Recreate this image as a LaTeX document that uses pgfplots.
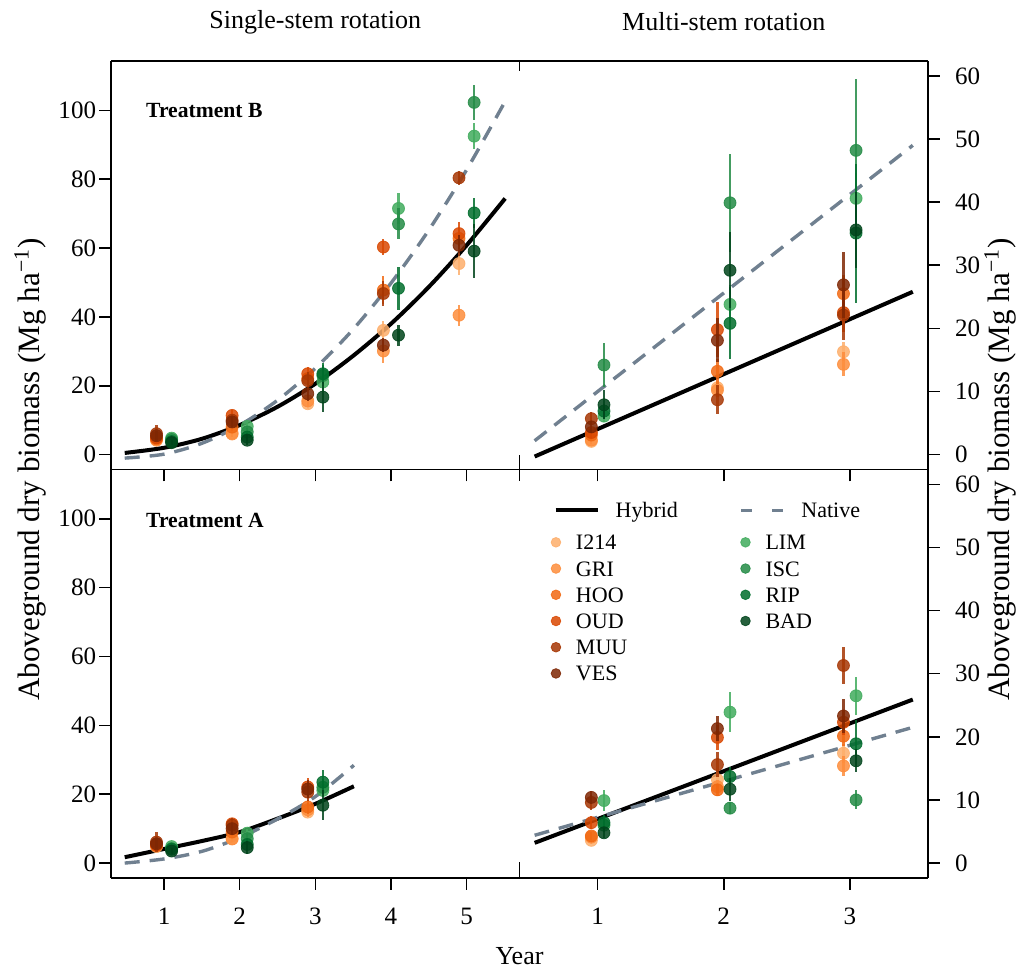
\documentclass[border=0pt]{standalone}
\usepackage{fontspec}
\setmainfont{Liberation Serif}
\usepackage{pgfplots}
\pgfplotsset{compat=1.18}
\usepgfplotslibrary{groupplots}

\definecolor{cI214}{HTML}{FDAE6B}
\definecolor{cGRI}{HTML}{FD8D3C}
\definecolor{cHOO}{HTML}{F16913}
\definecolor{cOUD}{HTML}{D94801}
\definecolor{cMUU}{HTML}{A63603}
\definecolor{cVES}{HTML}{7F2704}
\definecolor{cLIM}{HTML}{41AB5D}
\definecolor{cISC}{HTML}{238B45}
\definecolor{cRIP}{HTML}{006D2C}
\definecolor{cBAD}{HTML}{00441B}
\definecolor{natgray}{HTML}{708090}

\pgfplotsset{
  cv/.style={forget plot, only marks, mark=*, mark size=3pt, color=#1, opacity=0.85,
    error bars/.cd, y dir=both, y explicit, error mark=none,
    error bar style={line width=1.1pt, color=#1}},
  hyb/.style={forget plot, black, line width=2pt, smooth, mark=none},
  nat/.style={forget plot, natgray, line width=1.7pt, dash pattern=on 7.5pt off 5pt, smooth, mark=none},
  legdot/.style={legend image code/.code={\path[draw=none, fill=none] (0pt,-2.4pt) rectangle (12.4pt,2.4pt);
    \fill[#1, opacity=0.85] (2.4pt,0pt) circle (2.4pt);}},
  leftcol/.style={axis x line*=box, axis y line*=left, xtick pos=left, ytick pos=left,
    tick align=outside, ymin=-4.3, ymax=114.3, ytick={0,20,...,100},
    xmin=0.3, xmax=5.7, xtick={1,...,5}, yticklabel style={xshift=2pt}},
  rightcol/.style={axis x line*=box, axis y line*=right, xtick pos=left, ytick pos=right,
    yticklabel pos=right, tick align=outside, ymin=-2.35, ymax=62.35, ytick={0,10,...,60},
    xmin=0.38, xmax=3.62, xtick={1,2,3}, yticklabel style={xshift=4pt}},
}

\begin{document}
\begin{tikzpicture}
\begin{groupplot}[
  group style={group size=2 by 2, horizontal sep=0pt, vertical sep=0pt, group name=G},
  scale only axis, width=204pt, height=204pt,
  major tick length=6pt,
  tick style={black, line width=0.8pt},
  axis line style={black, line width=0.8pt, -},
  every outer x axis line/.append style={-},
  every outer y axis line/.append style={-},
  /pgf/number format/assume math mode=true,
  tick label style={font=\fontsize{12.5}{15}\selectfont},
  xticklabel style={yshift=-5.5pt},
  clip mode=individual,
]

% ---------- Treatment B, single-stem ----------
\nextgroupplot[leftcol, xticklabels={,,,,,}]
\addplot[hyb] coordinates {(0.48,0.5) (1.0,2.0) (1.5,4.6) (2.0,8.6) (2.5,13.9) (3.0,20.6) (3.5,28.7) (4.0,38.0) (4.5,48.7) (5.0,60.8) (5.51,74.4)};
\addplot[nat] coordinates {(0.48,-1.0) (1.0,0.15) (1.5,3.3) (2.0,8.55) (2.5,15.8) (3.0,25.1) (3.5,36.4) (4.0,49.8) (4.5,65.2) (5.0,82.7) (5.53,103.4)};
\addplot[cv=cI214] coordinates {(0.9,4.4) +- (0,1.0) (1.9,6.3) +- (0,1.0) (2.9,14.8) +- (0,1.5) (3.9,36.1) +- (0,2.8) (4.9,55.5) +- (0,3.2)};
\addplot[cv=cGRI] coordinates {(0.9,4.2) +- (0,0.9) (1.9,6.0) +- (0,1.0) (2.9,15.6) +- (0,1.6) (3.9,30.1) +- (0,3.5) (4.9,40.5) +- (0,3.0)};
\addplot[cv=cHOO] coordinates {(0.9,4.6) +- (0,1.0) (1.9,8.0) +- (0,1.2) (2.9,22.1) +- (0,2.0) (3.9,47.8) +- (0,4.0) (4.9,62.8) +- (0,3.0)};
\addplot[cv=cOUD] coordinates {(0.9,4.9) +- (0,1.2) (1.9,11.4) +- (0,1.5) (2.9,23.5) +- (0,2.0) (3.9,60.3) +- (0,2.2) (4.9,64.2) +- (0,3.5)};
\addplot[cv=cMUU] coordinates {(0.9,6.1) +- (0,2.5) (1.9,10.0) +- (0,1.8) (2.9,21.5) +- (0,2.5) (3.9,46.8) +- (0,3.5) (4.9,80.4) +- (0,2.0)};
\addplot[cv=cVES] coordinates {(0.9,5.5) +- (0,1.5) (1.9,9.5) +- (0,1.5) (2.9,17.7) +- (0,2.0) (3.9,31.8) +- (0,2.0) (4.9,60.8) +- (0,3.0)};
\addplot[cv=cLIM] coordinates {(1.1,4.8) +- (0,1.0) (2.1,8.2) +- (0,1.2) (3.1,21.1) +- (0,2.5) (4.1,71.5) +- (0,4.5) (5.1,92.5) +- (0,3.7)};
\addplot[cv=cISC] coordinates {(1.1,4.4) +- (0,1.0) (2.1,6.6) +- (0,1.2) (3.1,23.0) +- (0,3.0) (4.1,67.0) +- (0,4.5) (5.1,102.3) +- (0,5.0)};
\addplot[cv=cRIP] coordinates {(1.1,3.8) +- (0,0.8) (2.1,5.1) +- (0,1.2) (3.1,23.5) +- (0,3.0) (4.1,48.3) +- (0,6.3) (5.1,70.2) +- (0,4.3)};
\addplot[cv=cBAD] coordinates {(1.1,3.5) +- (0,0.8) (2.1,4.2) +- (0,1.5) (3.1,16.7) +- (0,4.3) (4.1,34.7) +- (0,3.0) (5.1,59.1) +- (0,7.9)};
\node[anchor=west, font=\bfseries\fontsize{10.8}{13}\selectfont] at (rel axis cs:0,1) [xshift=14pt, yshift=-24.5pt] {Treatment B};
\node[font=\fontsize{13}{15}\selectfont] at (rel axis cs:0.5,1) [yshift=19.5pt] {Single-stem rotation};
\path (rel axis cs:0,0) ++(-40.5pt,0pt) node[rotate=90, font=\fontsize{15.5}{18}\selectfont] {Aboveground dry biomass (Mg ha\textsuperscript{−1})};
\draw[line width=0.8pt] (rel axis cs:1,1) -- ++(0pt,-5pt);
\draw[line width=0.8pt] (rel axis cs:1,0) -- ++(0pt,7pt);

% ---------- Treatment B, multi-stem ----------
\nextgroupplot[rightcol, xticklabels={,,,,}]
\addplot[hyb] coordinates {(0.5,-0.3) (3.5,25.8)};
\addplot[nat] coordinates {(0.5,2.2) (3.5,49.0)};
\addplot[cv=cI214] coordinates {(0.95,2.1) +- (0,0.6) (1.95,10.6) +- (0,1.0) (2.95,16.3) +- (0,1.5)};
\addplot[cv=cGRI] coordinates {(0.95,2.3) +- (0,0.6) (1.95,10.2) +- (0,1.0) (2.95,14.3) +- (0,1.9)};
\addplot[cv=cHOO] coordinates {(0.95,3.1) +- (0,0.8) (1.95,13.2) +- (0,2.0) (2.95,25.5) +- (0,3.0)};
\addplot[cv=cOUD] coordinates {(0.95,3.5) +- (0,0.8) (1.95,19.8) +- (0,4.4) (2.95,22.5) +- (0,3.0)};
\addplot[cv=cMUU] coordinates {(0.95,5.7) +- (0,1.0) (1.95,8.7) +- (0,2.3) (2.95,22.1) +- (0,4.0)};
\addplot[cv=cVES] coordinates {(0.95,4.4) +- (0,1.0) (1.95,18.1) +- (0,3.5) (2.95,26.9) +- (0,5.2)};
\addplot[cv=cLIM] coordinates {(1.05,6.1) +- (0,1.0) (2.05,23.8) +- (0,3.0) (3.05,40.6) +- (0,4.0)};
\addplot[cv=cISC] coordinates {(1.05,14.2) +- (0,3.5) (2.05,39.9) +- (0,7.8) (3.05,48.2) +- (0,11.3)};
\addplot[cv=cRIP] coordinates {(1.05,6.9) +- (0,1.2) (2.05,20.8) +- (0,5.7) (3.05,35.1) +- (0,11.0)};
\addplot[cv=cBAD] coordinates {(1.05,7.9) +- (0,2.3) (2.05,29.2) +- (0,6.0) (3.05,35.6) +- (0,6.0)};
\node[font=\fontsize{13}{15}\selectfont] at (rel axis cs:0.5,1) [yshift=19.5pt] {Multi-stem rotation};
\path (rel axis cs:1,0) ++(36pt,0pt) node[rotate=90, font=\fontsize{15.5}{18}\selectfont] {Aboveground dry biomass (Mg ha\textsuperscript{−1})};
\draw[line width=0.8pt] (rel axis cs:0,1) -- ++(0pt,-5pt);
\draw[line width=0.8pt] (rel axis cs:0,0) -- ++(0pt,7pt);

% ---------- Treatment A, single-stem ----------
\nextgroupplot[leftcol,
  legend columns=2, legend cell align=left,
  legend style={at={(1.0765,0.84)}, anchor=north west, draw=none, fill=none,
    inner sep=0pt, outer sep=0pt, row sep=5.6pt, font=\fontsize{11}{13}\selectfont,
    nodes={inner sep=0pt, text height=7.5pt, text depth=0pt},
    /tikz/every even column/.append style={column sep=56.4pt}}]
\addplot[hyb] coordinates {(0.48,1.7) (1.0,4.1) (1.5,6.4) (2.0,9.0) (2.5,12.9) (3.0,17.2) (3.51,22.3)};
\addplot[nat] coordinates {(0.48,0.0) (1.0,1.2) (1.5,3.4) (2.0,7.4) (2.5,12.8) (3.0,19.3) (3.51,28.4)};
\addplot[cv=cI214] coordinates {(0.9,4.8) +- (0,0.8) (1.9,7.1) +- (0,1.0) (2.9,14.8) +- (0,1.5)};
\addplot[cv=cGRI] coordinates {(0.9,5.0) +- (0,0.9) (1.9,7.0) +- (0,1.0) (2.9,15.5) +- (0,2.0)};
\addplot[cv=cHOO] coordinates {(0.9,5.1) +- (0,1.0) (1.9,9.0) +- (0,1.2) (2.9,16.3) +- (0,2.0)};
\addplot[cv=cOUD] coordinates {(0.9,5.3) +- (0,1.2) (1.9,11.4) +- (0,1.5) (2.9,22.1) +- (0,2.5)};
\addplot[cv=cMUU] coordinates {(0.9,6.1) +- (0,2.8) (1.9,11.0) +- (0,2.0) (2.9,20.6) +- (0,2.5)};
\addplot[cv=cVES] coordinates {(0.9,5.6) +- (0,1.5) (1.9,10.0) +- (0,1.5) (2.9,21.5) +- (0,2.5)};
\addplot[cv=cLIM] coordinates {(1.1,4.8) +- (0,1.0) (2.1,8.7) +- (0,1.2) (3.1,21.1) +- (0,2.0)};
\addplot[cv=cISC] coordinates {(1.1,4.2) +- (0,0.8) (2.1,7.1) +- (0,1.2) (3.1,22.0) +- (0,2.5)};
\addplot[cv=cRIP] coordinates {(1.1,4.0) +- (0,0.8) (2.1,5.4) +- (0,1.5) (3.1,23.5) +- (0,3.4)};
\addplot[cv=cBAD] coordinates {(1.1,3.5) +- (0,0.8) (2.1,4.5) +- (0,1.8) (3.1,16.8) +- (0,4.4)};
\addlegendimage{legdot=cI214}\addlegendentry{I214}
\addlegendimage{legdot=cLIM}\addlegendentry{LIM}
\addlegendimage{legdot=cGRI}\addlegendentry{GRI}
\addlegendimage{legdot=cISC}\addlegendentry{ISC}
\addlegendimage{legdot=cHOO}\addlegendentry{HOO}
\addlegendimage{legdot=cRIP}\addlegendentry{RIP}
\addlegendimage{legdot=cOUD}\addlegendentry{OUD}
\addlegendimage{legdot=cBAD}\addlegendentry{BAD}
\addlegendimage{legdot=cMUU}\addlegendentry{MUU}
\addlegendimage{empty legend}\addlegendentry{}
\addlegendimage{legdot=cVES}\addlegendentry{VES}
\node[anchor=west, font=\bfseries\fontsize{10.8}{13}\selectfont] at (rel axis cs:0,1) [xshift=14pt, yshift=-25.5pt] {Treatment A};
\path (rel axis cs:1,0) ++(0pt,-39pt) node[font=\fontsize{13}{15}\selectfont] {Year};
\draw[line width=0.8pt] (rel axis cs:1,1) -- ++(0pt,-6pt);
\draw[line width=0.8pt] (rel axis cs:1,0) -- ++(0pt,8pt);

% ---------- Treatment A, multi-stem ----------
\nextgroupplot[rightcol,
  legend columns=2, legend cell align=left,
  legend style={at={(0.0833,0.918)}, anchor=north west, draw=none, fill=none,
    inner sep=0pt, outer sep=0pt, font=\fontsize{11}{13}\selectfont,
    nodes={inner sep=0pt, text height=7.5pt, text depth=0pt},
    /tikz/every even column/.append style={column sep=30.8pt}}]
\addplot[hyb] coordinates {(0.5,3.2) (3.5,25.9)};
\addplot[nat] coordinates {(0.5,4.4) (3.5,21.5)};
\addplot[cv=cI214] coordinates {(0.95,3.6) +- (0,0.6) (1.95,13.2) +- (0,1.2) (2.95,17.4) +- (0,1.5)};
\addplot[cv=cGRI] coordinates {(0.95,4.1) +- (0,0.6) (1.95,12.1) +- (0,1.0) (2.95,15.4) +- (0,1.6)};
\addplot[cv=cHOO] coordinates {(0.95,4.3) +- (0,0.7) (1.95,11.6) +- (0,0.9) (2.95,20.1) +- (0,1.5)};
\addplot[cv=cOUD] coordinates {(0.95,6.4) +- (0,1.0) (1.95,19.9) +- (0,2.0) (2.95,22.3) +- (0,2.0)};
\addplot[cv=cMUU] coordinates {(0.95,9.6) +- (0,1.2) (1.95,15.6) +- (0,2.0) (2.95,31.3) +- (0,2.9)};
\addplot[cv=cVES] coordinates {(0.95,10.4) +- (0,1.0) (1.95,21.3) +- (0,2.0) (2.95,23.3) +- (0,2.7)};
\addplot[cv=cLIM] coordinates {(1.05,9.9) +- (0,1.6) (2.05,23.9) +- (0,3.2) (3.05,26.5) +- (0,3.0)};
\addplot[cv=cISC] coordinates {(1.05,6.0) +- (0,1.0) (2.05,8.7) +- (0,0.9) (3.05,10.0) +- (0,1.5)};
\addplot[cv=cRIP] coordinates {(1.05,6.4) +- (0,1.2) (2.05,13.7) +- (0,1.5) (3.05,18.9) +- (0,3.7)};
\addplot[cv=cBAD] coordinates {(1.05,4.8) +- (0,0.8) (2.05,11.7) +- (0,1.8) (3.05,16.2) +- (0,1.8)};
\addlegendimage{legend image code/.code={\path[draw=none, fill=none] (0pt,-2pt) rectangle (30pt,2pt);
  \draw[black, line width=2pt] (0pt,0pt) -- (21pt,0pt);}}
\addlegendentry{Hybrid}
\addlegendimage{legend image code/.code={\path[draw=none, fill=none] (0pt,-2pt) rectangle (30pt,2pt);
  \draw[natgray, line width=1.7pt] (0pt,0pt) -- (5.5pt,0pt) (15.5pt,0pt) -- (21pt,0pt);}}
\addlegendentry{Native}
\draw[line width=0.8pt] (rel axis cs:0,1) -- ++(0pt,-6pt);
\draw[line width=0.8pt] (rel axis cs:0,0) -- ++(0pt,8pt);
\end{groupplot}
\pgfresetboundingbox
\path ([xshift=-55.5pt,yshift=30.5pt]G c1r1.north west) rectangle ([xshift=44pt,yshift=-46pt]G c2r2.south east);
\end{tikzpicture}
\end{document}
